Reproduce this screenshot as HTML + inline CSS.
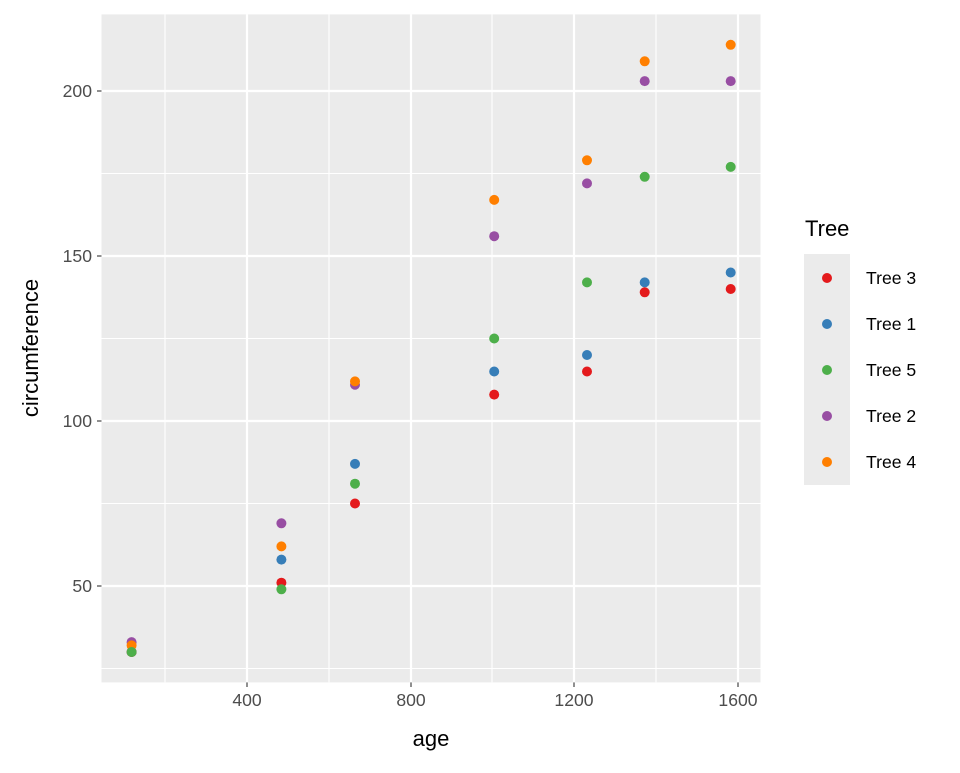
<!DOCTYPE html>
<html><head><style>body{margin:0;background:#fff}</style></head><body>
<svg width="960" height="768" xmlns="http://www.w3.org/2000/svg" font-family="Liberation Sans, sans-serif">
<rect width="960" height="768" fill="#fff"/>
<rect x="101.5" y="14.4" width="659" height="668" fill="#EBEBEB"/>
<g stroke="#fff" stroke-width="1.1">
<line x1="165" x2="165" y1="14.4" y2="682.4"/><line x1="329" x2="329" y1="14.4" y2="682.4"/><line x1="492" x2="492" y1="14.4" y2="682.4"/><line x1="656" x2="656" y1="14.4" y2="682.4"/>
<line x1="101.5" x2="760.5" y1="173.5" y2="173.5"/><line x1="101.5" x2="760.5" y1="338.5" y2="338.5"/><line x1="101.5" x2="760.5" y1="503.5" y2="503.5"/><line x1="101.5" x2="760.5" y1="668.5" y2="668.5"/>
</g>
<g stroke="#fff" stroke-width="2.2">
<line x1="247" x2="247" y1="14.4" y2="682.4"/><line x1="411" x2="411" y1="14.4" y2="682.4"/><line x1="574" x2="574" y1="14.4" y2="682.4"/><line x1="738" x2="738" y1="14.4" y2="682.4"/>
<line x1="101.5" x2="760.5" y1="91" y2="91"/><line x1="101.5" x2="760.5" y1="256" y2="256"/><line x1="101.5" x2="760.5" y1="421" y2="421"/><line x1="101.5" x2="760.5" y1="586" y2="586"/>
</g>
<g stroke="#333" stroke-width="1.1">
<line x1="247" x2="247" y1="682.4" y2="687"/><line x1="411" x2="411" y1="682.4" y2="687"/><line x1="574" x2="574" y1="682.4" y2="687"/><line x1="738" x2="738" y1="682.4" y2="687"/>
<line x1="97" x2="101.5" y1="91" y2="91"/><line x1="97" x2="101.5" y1="256" y2="256"/><line x1="97" x2="101.5" y1="421" y2="421"/><line x1="97" x2="101.5" y1="586" y2="586"/>
</g>
<g fill="#4D4D4D" font-size="17.6">
<text x="247" y="706" text-anchor="middle">400</text><text x="411" y="706" text-anchor="middle">800</text><text x="574" y="706" text-anchor="middle">1200</text><text x="738" y="706" text-anchor="middle">1600</text>
<text x="92" y="97" text-anchor="end">200</text><text x="92" y="262" text-anchor="end">150</text><text x="92" y="427" text-anchor="end">100</text><text x="92" y="592" text-anchor="end">50</text>
</g>
<text x="431" y="746" text-anchor="middle" font-size="22">age</text>
<text transform="translate(38,348) rotate(-90)" text-anchor="middle" font-size="22">circumference</text>
<g fill="#377EB8">
<circle cx="131.6" cy="652" r="5"/><circle cx="281.4" cy="559.6" r="5"/><circle cx="355" cy="463.9" r="5"/><circle cx="494.2" cy="371.5" r="5"/><circle cx="587" cy="355" r="5"/><circle cx="644.7" cy="282.4" r="5"/><circle cx="730.7" cy="272.5" r="5"/>
</g>
<g fill="#984EA3">
<circle cx="131.6" cy="642.1" r="5"/><circle cx="281.4" cy="523.3" r="5"/><circle cx="355" cy="384.7" r="5"/><circle cx="494.2" cy="236.2" r="5"/><circle cx="587" cy="183.4" r="5"/><circle cx="644.7" cy="81.1" r="5"/><circle cx="730.7" cy="81.1" r="5"/>
</g>
<g fill="#E41A1C">
<circle cx="131.6" cy="652" r="5"/><circle cx="281.4" cy="582.7" r="5"/><circle cx="355" cy="503.5" r="5"/><circle cx="494.2" cy="394.6" r="5"/><circle cx="587" cy="371.5" r="5"/><circle cx="644.7" cy="292.3" r="5"/><circle cx="730.7" cy="289" r="5"/>
</g>
<g fill="#FF7F00">
<circle cx="131.6" cy="645.4" r="5"/><circle cx="281.4" cy="546.4" r="5"/><circle cx="355" cy="381.4" r="5"/><circle cx="494.2" cy="199.9" r="5"/><circle cx="587" cy="160.3" r="5"/><circle cx="644.7" cy="61.3" r="5"/><circle cx="730.7" cy="44.8" r="5"/>
</g>
<g fill="#4DAF4A">
<circle cx="131.6" cy="652" r="5"/><circle cx="281.4" cy="589.3" r="5"/><circle cx="355" cy="483.7" r="5"/><circle cx="494.2" cy="338.5" r="5"/><circle cx="587" cy="282.4" r="5"/><circle cx="644.7" cy="176.8" r="5"/><circle cx="730.7" cy="166.9" r="5"/>
</g>
<text x="805" y="236" font-size="22">Tree</text>
<rect x="804" y="254" width="46" height="231" fill="#EBEBEB"/>
<g font-size="17.6" fill="#000">
<text x="866" y="284">Tree 3</text><text x="866" y="330">Tree 1</text><text x="866" y="376">Tree 5</text><text x="866" y="422">Tree 2</text><text x="866" y="468">Tree 4</text>
</g>
<circle cx="827" cy="278" r="5" fill="#E41A1C"/><circle cx="827" cy="324" r="5" fill="#377EB8"/><circle cx="827" cy="370" r="5" fill="#4DAF4A"/><circle cx="827" cy="416" r="5" fill="#984EA3"/><circle cx="827" cy="462" r="5" fill="#FF7F00"/>
</svg>
</body></html>
